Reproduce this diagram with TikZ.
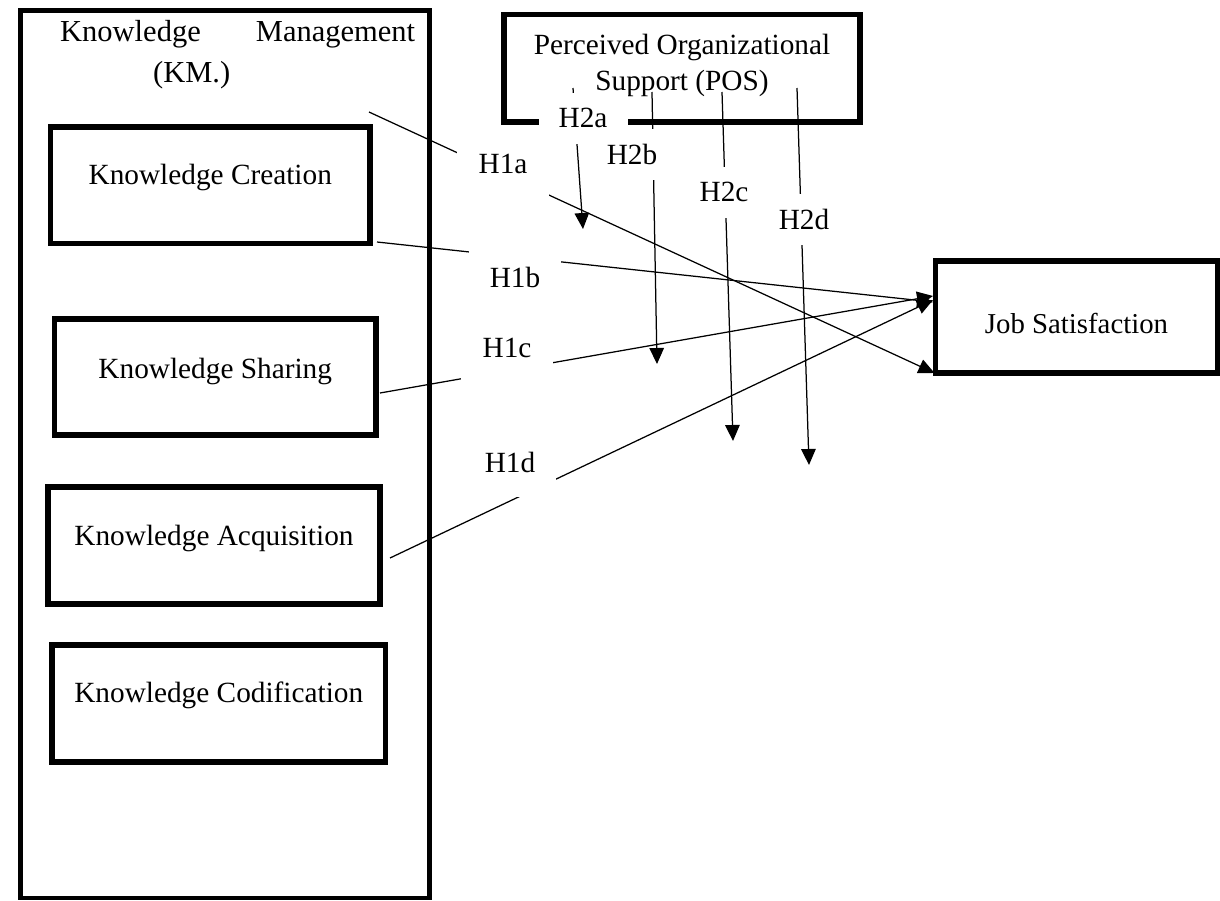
\documentclass[tikz,border=0pt]{standalone}
\usepackage{fontspec}
\setmainfont{Liberation Serif}
\usetikzlibrary{arrows.meta,calc}
\newcommand{\fsmain}{\fontsize{29.3}{36}\selectfont}
\begin{document}
\begin{tikzpicture}[x=1pt,y=-1pt,
  outerbox/.style={draw, line width=4.5pt, inner sep=0pt, outer sep=0pt},
  plainbox/.style={draw, line width=5.5pt, inner sep=0pt, outer sep=0pt, font=\fsmain},
  kbox/.style={plainbox, text height=21pt},
  lab/.style={fill=white, inner sep=0pt, minimum width=92pt, minimum height=70pt, font=\fsmain},
  labb/.style={lab, minimum width=89pt, minimum height=51pt},
  conn/.style={line width=1.25pt},
  arr/.style={conn, -{Triangle[length=16pt,width=14.5pt]}}]
\useasboundingbox (0,0) rectangle (1220,900);

% boxes
\node[outerbox, minimum width=409pt, minimum height=887.5pt] (km) at (225,454.25) {};
\node[anchor=base west, inner sep=0pt, font=\fontsize{30.5}{40.5}\selectfont] (kmtitle) at (60,41.5)
  {\parbox[t]{355pt}{Knowledge\hfill Management\\\hspace*{93pt}(KM.)}};
\node[kbox, minimum width=319.5pt, minimum height=116.5pt, text depth=23.5pt] (kc) at (210.25,185.25) {Knowledge Creation};
\node[kbox, minimum width=321.5pt, minimum height=116pt, text depth=19pt] (ks) at (215.25,377) {Knowledge Sharing};
\node[kbox, minimum width=332pt, minimum height=117pt, text depth=22pt] (ka) at (214,545.5) {Knowledge Acquisition};
\node[kbox, minimum width=333.5pt, minimum height=117pt, text depth=24pt] (kd) at (218.75,703.5) {Knowledge Codification};
\node[plainbox, minimum width=356pt, minimum height=107.5pt, align=center] (pos) at (682,68.25)
  {Perceived Organizational\\Support (POS)\rule[-12.5pt]{0pt}{12.5pt}};
\node[plainbox, minimum width=282pt, minimum height=112pt, text height=32pt, text depth=0pt,
  font=\fontsize{28.8}{34}\selectfont] (js) at (1076.5,317) {Job Satisfaction};

% connector end points
\coordinate (s1a) at (369,112);
\coordinate (s1b) at ($(kc.south east)+(7,-1.5)$);
\coordinate (s1c) at ($(ks.east)+(4,16)$);
\coordinate (s1d) at ($(ka.east)+(10,12.5)$);
\coordinate (e1a) at ($(js.south west)+(-1,0)$);
\coordinate (e1b) at ($(js.west)+(-2.5,-15)$);
\coordinate (e1c) at ($(js.west)+(-2.5,-21)$);
\coordinate (e1d) at ($(js.west)+(-2.5,-17)$);
\coordinate (s2a) at (573,88);
\coordinate (s2b) at (652,92);
\coordinate (s2c) at (722,92);
\coordinate (s2d) at (797,88);
\coordinate (e2a) at (583,229);
\coordinate (e2b) at (657,364);
\coordinate (e2c) at (733,441);
\coordinate (e2d) at (809,465);

% connectors
\draw[arr] (s1a) -- (e1a);
\draw[arr] (s1b) -- (e1b);
\draw[arr] (s1c) -- (e1c);
\draw[arr] (s1d) -- (e1d);
\draw[arr] (s2a) -- (e2a);
\draw[arr] (s2b) -- (e2b);
\draw[arr] (s2c) -- (e2c);
\draw[arr] (s2d) -- (e2d);

% labels (white text boxes)
\node[lab] (l1a) at (503,164) {H1a};
\node[lab] (l1b) at (515,277) {H1b};
\node[lab] (l1c) at (507,348) {H1c};
\node[lab] (l1d) at (510,462) {H1d};
\node[labb] (l2a) at (583,118) {H2a};
\node[labb] (l2b) at (632,154) {H2b};
\node[labb] (l2c) at (724,192) {H2c};
\node[labb] (l2d) at (804,219) {H2d};
\end{tikzpicture}
\end{document}
